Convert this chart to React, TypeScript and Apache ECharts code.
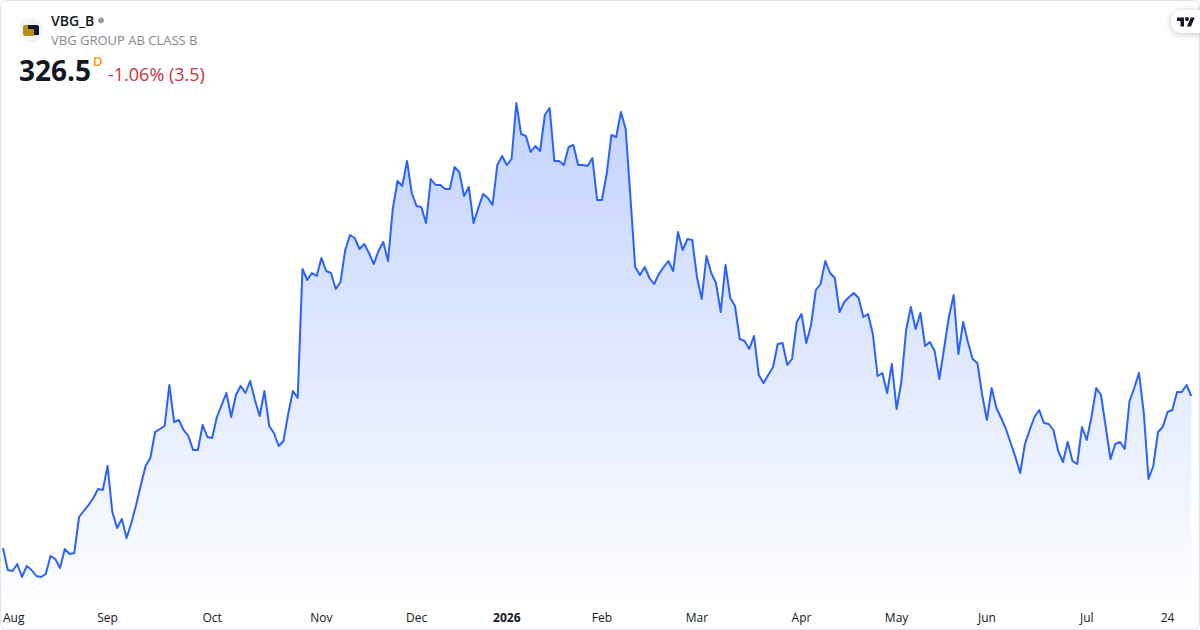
import React, { useEffect, useRef } from "react";
import * as echarts from "echarts";

const symbol = "VBG_B";
const companyName = "VBG GROUP AB CLASS B";
const lastPrice = "326.5";
const changeText = "-1.06% (3.5)";
const intervalMark = "D";

const tickPositions = [0, 22, 44, 67, 87, 106, 126, 146, 168, 188, 207, 228, 245];
const tickLabels = ["Aug", "Sep", "Oct", "Nov", "Dec", "2026", "Feb", "Mar", "Apr", "May", "Jun", "Jul", "24"];
const boldTick = "2026";

const prices = [
  280.9, 274.3, 274.0, 276.1, 272.2, 275.5, 274.3, 272.5, 272.2, 273.1, 278.5, 277.6, 274.9, 280.6, 279.1, 279.4,
  290.2, 292.0, 293.8, 295.9, 298.6, 298.3, 305.5, 291.7, 286.9, 289.6, 283.9, 288.4, 293.8, 299.8, 305.5, 307.9,
  315.7, 316.6, 317.5, 329.8, 318.7, 319.3, 316.3, 314.5, 310.3, 310.3, 317.8, 314.2, 313.9, 320.2, 323.8, 327.4,
  320.2, 326.8, 329.5, 327.4, 331.0, 325.3, 320.5, 328.0, 317.5, 315.4, 311.5, 313.0, 321.1, 328.0, 325.9,
  364.6, 361.3, 363.4, 362.5, 367.9, 364.0, 363.4, 358.6, 360.7, 370.3, 374.8, 373.9, 370.6, 372.1, 369.4, 366.1,
  370.0, 372.7, 367.0, 382.6, 391.0, 389.5, 397.0, 387.4, 383.5, 383.2, 378.4, 391.6, 389.8, 389.8, 388.6, 388.6,
  395.2, 393.7, 386.5, 389.2, 378.4, 382.9, 387.1, 385.9, 383.8, 395.8, 398.5, 395.8, 397.6, 414.4, 405.1, 404.5,
  399.7, 401.5, 400.0, 410.8, 412.9, 397.0, 397.0, 395.8, 401.2, 401.8, 395.8, 395.8, 395.5, 397.9, 385.3, 385.3,
  393.1, 404.8, 404.2, 411.7, 406.6, 386.2,
  365.2, 362.8, 365.2, 361.9, 360.1, 363.1, 365.2, 367.0, 364.0, 375.7, 370.3, 373.6, 373.3, 362.2, 355.6, 368.5,
  363.4, 360.4, 351.7, 365.8, 355.9, 353.5, 343.6, 343.0, 340.6, 344.5, 332.8, 330.4, 332.8, 335.2, 342.1, 342.4,
  335.8, 337.6, 348.7, 351.1, 342.4, 347.8, 358.3, 360.1, 367.0, 363.4, 361.9, 351.7, 354.7, 356.2, 357.4, 355.9,
  350.2, 351.1, 345.1, 332.5, 333.4, 327.4, 336.1, 322.6, 330.7, 346.3, 353.2, 346.6, 351.4,
  341.5, 342.7, 340.0, 331.6, 340.9, 350.2, 356.8, 339.1, 348.7, 342.7, 337.6, 336.4, 326.8, 319.3, 328.9, 322.9,
  319.9, 316.6, 312.4, 308.2, 303.4, 312.1, 316.3, 320.2, 322.3, 318.4, 318.1, 316.3, 310.0, 306.7, 312.7, 307.0,
  306.1, 317.2, 313.3, 320.2, 328.9, 326.8, 317.2, 307.6, 312.1, 312.7, 310.6, 325.0, 328.9, 333.4, 321.4, 301.6,
  305.5, 315.7, 317.2, 321.7, 322.3, 327.7, 327.7, 329.8, 326.5,
];

const categories = prices.map((_, i) => String(i));

const tvMark = "M14 22H7V11H0V4h14v18zM28 22h-8l7.5-18h8L28 22z";
const vbgGold = "M0 2Q0 0 2 0H5V4H11V11H2Q0 11 0 9Z";
const vbgBlack = "M0 0H9Q11 0 11 2V10H6V5Q6 4 5 4H0Z";

export default function App() {
  const ref = useRef<HTMLDivElement>(null);
  useEffect(() => {
    document.body.style.margin = "0";
    echarts.graphic.registerShape("tvMark", echarts.graphic.extendPath(tvMark, {}) as any);
    echarts.graphic.registerShape("vbgGold", echarts.graphic.extendPath(vbgGold, {}) as any);
    echarts.graphic.registerShape("vbgBlack", echarts.graphic.extendPath(vbgBlack, {}) as any);
    const chart = echarts.init(ref.current!, undefined, { renderer: "svg" });
    const font = "'Open Sans', sans-serif";
    chart.setOption({
      animation: false,
      backgroundColor: "#ffffff",
      grid: { left: 2.3, right: 8.7, top: 100, bottom: 30, containLabel: false },
      xAxis: {
        type: "category",
        data: categories,
        boundaryGap: false,
        axisLine: { show: false },
        axisTick: { show: false },
        splitLine: { show: false },
        axisLabel: {
          interval: (i: number) => tickPositions.includes(i),
          alignMinLabel: "left",
          hideOverlap: false,
          margin: 11,
          color: "#131722",
          fontFamily: font,
          fontSize: 12,
          formatter: (v: string) => {
            const p = tickPositions.indexOf(Number(v));
            const t = tickLabels[p];
            return t === boldTick ? `{b|${t}}` : t;
          },
          rich: { b: { fontWeight: "bold", color: "#131722", fontFamily: font, fontSize: 12 } },
        },
      },
      yAxis: { type: "value", min: 265.3, max: 415.3, show: false },
      series: [
        {
          type: "line",
          data: prices,
          symbol: "none",
          smooth: false,
          lineStyle: { color: "#2962FF", width: 2, join: "round" },
          areaStyle: {
            opacity: 1,
            color: new echarts.graphic.LinearGradient(0, 0, 0, 1, [
              { offset: 0, color: "rgba(41,98,255,0.28)" },
              { offset: 1, color: "rgba(41,98,255,0.01)" },
            ]),
          },
        },
      ],
      graphic: [
        { type: "rect", shape: { x: 0.5, y: 0.5, width: 1199, height: 629, r: 6 }, style: { fill: "none", stroke: "#e0e3eb", lineWidth: 1 }, silent: true },
        { type: "circle", shape: { cx: 31, cy: 30, r: 12 }, style: { fill: "#f0f3fa" } },
        { type: "vbgGold", x: 23, y: 25, style: { fill: "#b8900f" } },
        { type: "vbgBlack", x: 28, y: 25, style: { fill: "#131722" } },
        { type: "text", x: 51, y: 13, style: { text: symbol, fontFamily: font, fontWeight: 600, fontSize: 14, fill: "#131722" } },
        { type: "circle", shape: { cx: 101, cy: 20.5, r: 3 }, style: { fill: "#9598a1" } },
        { type: "text", x: 51, y: 33, style: { text: companyName, fontFamily: font, fontSize: 13, fill: "#868993", letterSpacing: 0.5 } },
        { type: "text", x: 19, y: 56, style: { text: lastPrice, fontFamily: font, fontWeight: 700, fontSize: 28, fill: "#131722" } },
        { type: "text", x: 93, y: 54, style: { text: intervalMark, fontFamily: font, fontWeight: 600, fontSize: 13, fill: "#ff9800" } },
        { type: "text", x: 108, y: 65, style: { text: changeText, fontFamily: font, fontSize: 18, fill: "#cc2f3c" } },
        { type: "rect", shape: { x: 1171, y: 10, width: 40, height: 23, r: 11 }, style: { fill: "#ffffff", shadowBlur: 6, shadowColor: "rgba(19,23,34,0.25)", shadowOffsetY: 1 } },
        { type: "tvMark", x: 1177, y: 15.5, scaleX: 0.5, scaleY: 0.5, style: { fill: "#131722" } },
        { type: "circle", shape: { cx: 1187, cy: 19, r: 2 }, style: { fill: "#131722" } },
      ],
    });
    return () => chart.dispose();
  }, []);
  return <div ref={ref} style={{ position: "absolute", left: 0, top: 0, width: 1200, height: 630 }} />;
}
